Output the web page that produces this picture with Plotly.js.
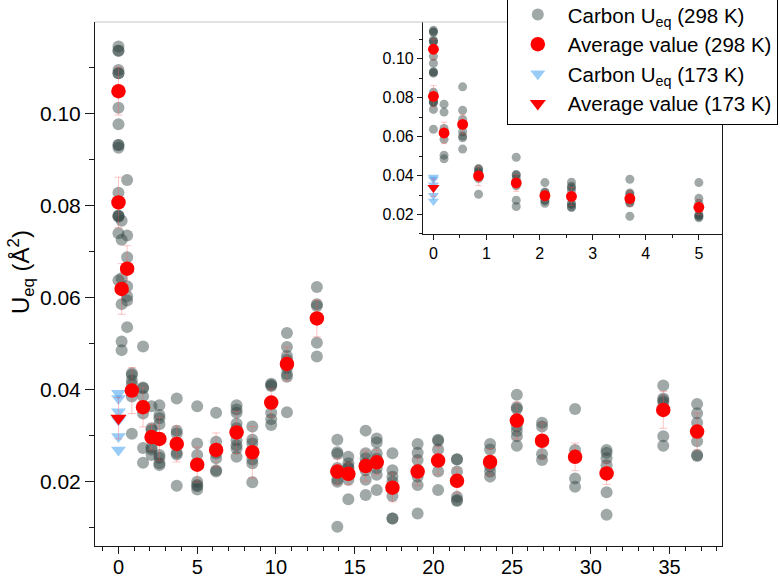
<!DOCTYPE html>
<html>
<head>
<meta charset="utf-8">
<script src="https://cdn.plot.ly/plotly-3.0.1.min.js"></script>
<style>
  html, body { margin: 0; padding: 0; background: #fff; }
  #chart { width: 780px; height: 577px; }
</style>
</head>
<body>
<div id="chart"></div>
<script>
// Position of each group of carbon atoms along the x axis
const groupX = [0, 0, 0.2, 0.55, 0.85, 1.56, 2.1, 2.6, 3.7, 5.0, 6.2, 7.5, 8.5, 9.7, 10.7, 12.6,
  13.9, 14.6, 15.7, 16.4, 17.4, 19.0, 20.3, 21.5, 23.6, 25.3, 26.9, 29.0, 31.0, 34.6, 36.75];

// Individual carbon Ueq values (Å²) at 298 K, one list per group
const carbonUeq298 = [
  [0.1146, 0.1137, 0.1137, 0.1095, 0.1088, 0.1088, 0.1013, 0.0977, 0.0932],
  [0.0932, 0.0926, 0.0828, 0.0778, 0.0778, 0.0776, 0.0740, 0.0638],
  [0.0767, 0.0726, 0.0642, 0.0586, 0.0505, 0.0486],
  [0.0856, 0.0735, 0.0688, 0.0625, 0.0603, 0.0594, 0.0536],
  [0.0436, 0.0432, 0.0420, 0.0412, 0.0385, 0.0304],
  [0.0494, 0.0405, 0.0403, 0.0386, 0.0348, 0.0273, 0.0241],
  [0.0364, 0.0316, 0.0312, 0.0275, 0.0270, 0.0258],
  [0.0366, 0.0345, 0.0338, 0.0325, 0.0258, 0.0252, 0.0240, 0.0236],
  [0.0381, 0.0311, 0.0305, 0.0263, 0.0259, 0.0191],
  [0.0364, 0.0283, 0.0258, 0.0200, 0.0193, 0.0190, 0.0183],
  [0.0350, 0.0287, 0.0262, 0.0251, 0.0225, 0.0222],
  [0.0366, 0.0357, 0.0350, 0.0326, 0.0316, 0.0290, 0.0279, 0.0272, 0.0254],
  [0.0320, 0.0291, 0.0283, 0.0248, 0.0240, 0.0199],
  [0.0413, 0.0410, 0.0408, 0.0350, 0.0336, 0.0323],
  [0.0523, 0.0493, 0.0473, 0.0465, 0.0447, 0.0434, 0.0428, 0.0351],
  [0.0623, 0.0586, 0.0582, 0.0502, 0.0472],
  [0.0291, 0.0264, 0.0260, 0.0230, 0.0205, 0.0200, 0.0102],
  [0.0254, 0.0232, 0.0240, 0.0229, 0.0215, 0.0204, 0.0162],
  [0.0311, 0.0262, 0.0251, 0.0240, 0.0225, 0.0204, 0.0171],
  [0.0294, 0.0285, 0.0262, 0.0250, 0.0229, 0.0215, 0.0182],
  [0.0262, 0.0225, 0.0211, 0.0200, 0.0169, 0.0120, 0.0120],
  [0.0282, 0.0263, 0.0247, 0.0225, 0.0211, 0.0193, 0.0131],
  [0.0291, 0.0289, 0.0270, 0.0246, 0.0222, 0.0182],
  [0.0249, 0.0248, 0.0222, 0.0202, 0.0167, 0.0160, 0.0158],
  [0.0282, 0.0270, 0.0243, 0.0233, 0.0222, 0.0211],
  [0.0389, 0.0362, 0.0358, 0.0320, 0.0310, 0.0299, 0.0278],
  [0.0328, 0.0320, 0.0260, 0.0247],
  [0.0358, 0.0269, 0.0207, 0.0189],
  [0.0269, 0.0263, 0.0251, 0.0236, 0.0177, 0.0128],
  [0.0409, 0.0381, 0.0377, 0.0372, 0.0299, 0.0278],
  [0.0369, 0.0349, 0.0328, 0.0310, 0.0288, 0.0258, 0.0256]
];

// Group averages at 298 K and their error bars
const average298 = [0.1049, 0.0807, 0.0619, 0.0663, 0.0398, 0.0362, 0.0297, 0.0293, 0.0282, 0.0237,
  0.0269, 0.0307, 0.0264, 0.0372, 0.0456, 0.0555, 0.0222, 0.0217, 0.0234, 0.0242, 0.0187, 0.0222,
  0.0246, 0.0202, 0.0243, 0.0333, 0.0289, 0.0254, 0.0218, 0.0356, 0.0309];
const averageErr298 = [0.0052, 0.0055, 0.0055, 0.0050, 0.0050, 0.0043, 0.0028, 0.0047, 0.0039, 0.0038,
  0.0037, 0.0046, 0.0056, 0.0030, 0.0037, 0.0040, 0.0028, 0.0024, 0.0033, 0.0027, 0.0031, 0.0030,
  0.0030, 0.0027, 0.0029, 0.0040, 0.0039, 0.0030, 0.0024, 0.0040, 0.0040];

// Measurements at 173 K
const carbonUeq173X = [0, 0, 0, 0, 0, 0];
const carbonUeq173 = [0.0392, 0.0381, 0.0352, 0.0334, 0.0298, 0.0269];
const average173X = [0];
const average173 = [0.0338];
const averageErr173 = [0.0045];

// Legend labels, axis title and tick labels
const seriesNames = ['Carbon U<sub>eq</sub> (298 K)', 'Average value (298 K)',
  'Carbon U<sub>eq</sub> (173 K)', 'Average value (173 K)'];
const yTitle = 'U<sub>eq</sub> (Å<sup>2</sup>)';
const mainXTicks = [0, 5, 10, 15, 20, 25, 30, 35];
const insetXTicks = [0, 1, 2, 3, 4, 5];
const yTicks = [0.02, 0.04, 0.06, 0.08, 0.10];

// Flatten the per-group values into point lists
const pointX = [], pointY = [];
groupX.forEach((x, i) => carbonUeq298[i].forEach(v => { pointX.push(x); pointY.push(v); }));

const FONT = 'Liberation Sans, Arial, Helvetica, sans-serif';
const grey = 'rgb(45,65,62)';
const red = 'rgb(255,0,0)';
const blue = 'rgb(70,160,240)';
const errStyle = { type: 'data', color: 'rgba(255,90,90,0.35)', thickness: 1 };

function layerTraces(xa, ya, big, showLegend) {
  const s = big ? 1 : 0.75;
  return [
    { x: pointX, y: pointY, xaxis: xa, yaxis: ya, type: 'scatter', mode: 'markers',
      name: seriesNames[0], showlegend: showLegend, legendrank: 1,
      marker: { symbol: 'circle', size: 12 * s, color: grey, opacity: 0.45, line: { width: 0 } } },
    { x: carbonUeq173X, y: carbonUeq173, xaxis: xa, yaxis: ya, type: 'scatter', mode: 'markers',
      name: seriesNames[2], showlegend: showLegend, legendrank: 3,
      marker: { symbol: 'triangle-down', size: 13 * s, color: blue, opacity: 0.55, line: { width: 0 } } },
    { x: groupX, y: average298, xaxis: xa, yaxis: ya, type: 'scatter', mode: 'markers',
      name: seriesNames[1], showlegend: showLegend, legendrank: 2,
      error_y: Object.assign({ array: averageErr298, width: big ? 4 : 3 }, errStyle),
      marker: { symbol: 'circle', size: 14.5 * s, color: red, line: { width: 0 } } },
    { x: average173X, y: average173, xaxis: xa, yaxis: ya, type: 'scatter', mode: 'markers',
      name: seriesNames[3], showlegend: showLegend, legendrank: 4,
      error_y: Object.assign({ array: averageErr173, width: big ? 4 : 3 }, errStyle),
      marker: { symbol: 'triangle-down', size: 14 * s, color: red, line: { width: 0 } } }
  ];
}

const data = layerTraces('x', 'y', true, true).concat(layerTraces('x2', 'y2', false, false));

const axisLine = '#1a1a1a';
const layout = {
  width: 780, height: 577,
  margin: { l: 95, r: 57.5, t: 22, b: 31, pad: 0, autoexpand: false },
  paper_bgcolor: '#fff', plot_bgcolor: 'rgba(0,0,0,0)',
  font: { family: FONT, color: '#000' },
  showlegend: true,
  legend: {
    x: 1.089, xanchor: 'right', y: 1.054, yanchor: 'top',
    bgcolor: '#fff', bordercolor: '#000', borderwidth: 1,
    font: { family: FONT, size: 20.5, color: '#000' },
    itemwidth: 50, tracegroupgap: 0
  },
  xaxis: {
    domain: [0, 1], range: [-1.491, 38.33],
    tickvals: mainXTicks, ticktext: mainXTicks.map(String),
    ticks: 'outside', ticklen: 7, tickwidth: 1, tickcolor: axisLine,
    minor: { dtick: 1, tick0: 0, ticks: 'outside', ticklen: 4, tickwidth: 1, tickcolor: axisLine, showgrid: false },
    showline: true, linecolor: axisLine, linewidth: 1, mirror: false,
    showgrid: false, zeroline: false, ticklabelstandoff: -4,
    tickfont: { family: FONT, size: 20 }
  },
  yaxis: {
    domain: [0, 1], range: [0.00602, 0.11993],
    tickvals: yTicks, ticktext: yTicks.map(v => v.toFixed(2)),
    ticks: 'outside', ticklen: 9, tickwidth: 1, tickcolor: axisLine,
    minor: { dtick: 0.01, tick0: 0, ticks: 'outside', ticklen: 5, tickwidth: 1, tickcolor: axisLine, showgrid: false },
    showline: true, linecolor: axisLine, linewidth: 1, mirror: true,
    showgrid: false, zeroline: false,
    tickfont: { family: FONT, size: 21 }
  },
  xaxis2: {
    domain: [0.523, 1], anchor: 'y2', range: [-0.198, 5.436],
    tickvals: insetXTicks, ticktext: insetXTicks.map(String),
    ticks: 'outside', ticklen: 5, tickwidth: 1, tickcolor: axisLine,
    minor: { dtick: 0.5, tick0: 0, ticks: 'outside', ticklen: 3, tickwidth: 1, tickcolor: axisLine, showgrid: false },
    showline: true, linecolor: axisLine, linewidth: 1,
    showgrid: false, zeroline: false,
    tickfont: { family: FONT, size: 16 }
  },
  yaxis2: {
    domain: [0.595, 1], anchor: 'x2', range: [0.00987, 0.1189],
    tickvals: yTicks, ticktext: yTicks.map(v => v.toFixed(2)),
    ticks: 'outside', ticklen: 5, tickwidth: 1, tickcolor: axisLine,
    minor: { dtick: 0.01, tick0: 0, ticks: 'outside', ticklen: 3, tickwidth: 1, tickcolor: axisLine, showgrid: false },
    showline: true, linecolor: axisLine, linewidth: 1,
    showgrid: false, zeroline: false,
    tickfont: { family: FONT, size: 16 }
  },
  annotations: [
    // y-axis title, placed slightly above the vertical centre of the plot
    { text: yTitle, xref: 'paper', yref: 'paper', x: -0.117, y: 0.522,
      xanchor: 'center', yanchor: 'middle', textangle: -90, showarrow: false,
      font: { family: FONT, size: 24, color: '#000' } }
  ],
  shapes: [
    // light frame line along the top of the plotting area
    { type: 'line', xref: 'paper', yref: 'paper', x0: 0, x1: 1, y0: 1, y1: 1,
      line: { color: '#c4c4c4', width: 1 }, layer: 'above' }
  ]
};

Plotly.newPlot('chart', data, layout, { displayModeBar: false, responsive: false });
</script>
</body>
</html>
